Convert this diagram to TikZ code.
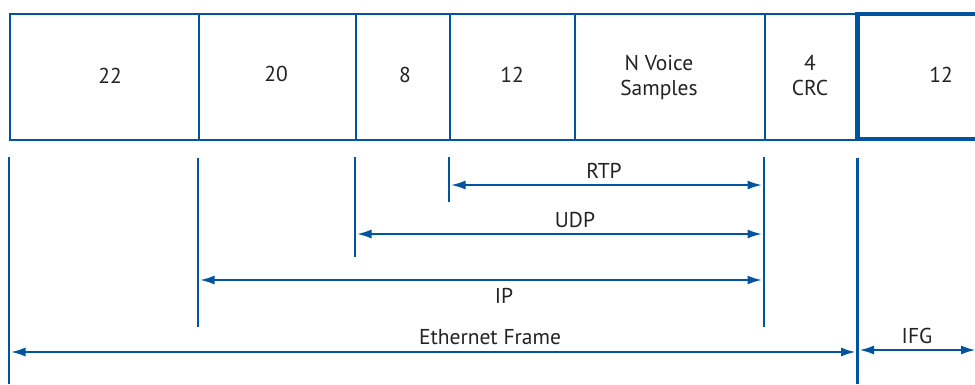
\documentclass[tikz,border=0pt]{standalone}
\usepackage{fontspec}
\setmainfont{PT Sans}
\usetikzlibrary{arrows.meta}
\definecolor{lblue}{RGB}{0,84,159}
\definecolor{ltext}{RGB}{35,35,35}
\begin{document}
\begin{tikzpicture}[x=1pt,y=-1pt,
  field/.style={draw=lblue,line width=2pt,minimum height=126pt,anchor=north west,inner sep=0pt},
  lbl/.style={text=ltext,font=\fontsize{21.5}{25}\selectfont,anchor=base,inner sep=0pt},
  mlbl/.style={text=ltext,font=\fontsize{21.5}{25}\selectfont,align=center,inner sep=0pt},
  tick/.style={draw=lblue,line width=2.5pt},
  dim/.style={draw=lblue,line width=2.5pt,shorten <=1.5pt,shorten >=1.5pt},
  both/.style={{Latex[length=15pt,width=9pt]}-{Latex[length=15pt,width=9pt]}}]
\useasboundingbox (0,0) rectangle (975,384);
\fill[white] (0,0) rectangle (975,384);
% fields
\node[field,minimum width=189pt] (f1) at (9,13) {};
\node[field,minimum width=157pt] (f2) at (198,13) {};
\node[field,minimum width=94pt] (f3) at (355,13) {};
\node[field,minimum width=125pt] (f4) at (449,13) {};
\node[field,minimum width=190pt] (f5) at (574,13) {};
\node[field,minimum width=93pt] (f6) at (764,13) {};
\draw[lblue,line width=4.5pt] (976,14) -- (857.5,14) -- (857.5,139) -- (976,139);
\node[lbl] (t1) at (110,83) {22};
\node[lbl] (t2) at (276,81) {20};
\node[lbl] (t3) at (405,82) {8};
\node[lbl] (t4) at (512,82) {12};
\node[mlbl] (t5) at (659,78) {N Voice\\Samples};
\node[mlbl] (t6) at (810,75) {4\\CRC};
\node[lbl] (t7) at (941,82) {12};
% ticks
\coordinate (a1) at (9,157);   \coordinate (b1) at (9,384);
\coordinate (a2) at (198,158); \coordinate (b2) at (198,327);
\coordinate (a3) at (355,157); \coordinate (b3) at (355,257);
\coordinate (a4) at (449,157); \coordinate (b4) at (449,202);
\coordinate (a5) at (764,157); \coordinate (b5) at (764,327);
\coordinate (a6) at (857.5,158); \coordinate (b6) at (857.5,384);
\coordinate (e7) at (976,350);
\foreach \i in {1,...,6} \draw[tick] (a\i) -- (b\i);
% dimension arrows
\draw[dim,both] (a4 |- 0,185) -- (a5 |- 0,185);
\draw[dim,both] (a3 |- 0,234) -- (a5 |- 0,234);
\draw[dim,both] (a2 |- 0,280) -- (a5 |- 0,280);
\draw[dim,both] (a1 |- 0,352) -- (a6 |- 0,352);
\draw[dim,shorten >=0pt,both] (a6 |- 0,350) -- (e7);
\node[lbl] (rtp) at (604,178) {RTP};
\node[lbl] (udp) at (575,227) {UDP};
\node[lbl] (ip) at (504,303) {IP};
\node[lbl] (eth) at (490,344) {Ethernet Frame};
\node[lbl] (ifg) at (917,343) {IFG};
\end{tikzpicture}
\end{document}
